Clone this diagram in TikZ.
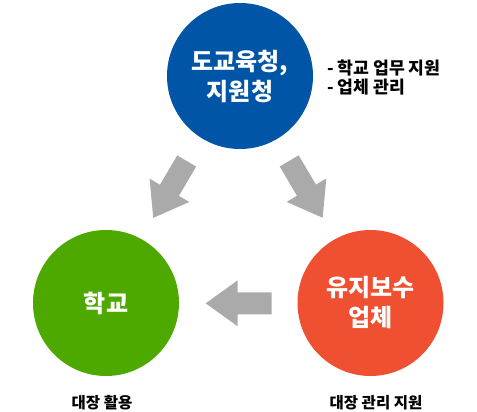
\documentclass[tikz,border=0pt]{standalone}
\usepackage{fontspec}
\setmainfont{Noto Sans CJK KR}
\definecolor{officeblue}{RGB}{0,85,166}
\definecolor{schoolgreen}{RGB}{77,168,0}
\definecolor{repairred}{RGB}{240,80,50}
\definecolor{arrowgray}{RGB}{170,170,170}
\tikzset{
  org/.style={circle, minimum size=146pt, inner sep=0pt, text=white,
    font=\bfseries\fontsize{24}{30}\selectfont, align=center},
  note/.style={font=\bfseries\fontsize{15.5}{19}\selectfont, inner sep=0pt},
  fatarrow/.style={fill=arrowgray, draw=none}
}
\begin{document}
\begin{tikzpicture}[x=1pt, y=-1pt]
    \useasboundingbox (0,0) rectangle (477,412);
    \node[org, fill=officeblue] (office) at (240,76) {도교육청,\\지원청};
    \node[org, fill=schoolgreen] (school) at (106,303) {학교};
    \node[org, fill=repairred] (repair) at (370.5,303) {유지보수\\업체};

    \node[note, anchor=west, align=left, font=\bfseries\fontsize{17.2}{19}\selectfont] (duty) at (327,77.5) {- 학교 업무 지원\\- 업체 관리};
    \node[note] (use) at (102,403) {대장 활용};
    \node[note] (manage) at (376,403) {대장 관리 지원};

    % gray arrows
    \begin{scope}[shift={(186.7,161)}, rotate=239.5]
      \fill[fatarrow] (0,-11) -- (34,-11) -- (34,-23) -- (66,0) -- (34,23) -- (34,11) -- (0,11) -- cycle;
    \end{scope}
    \begin{scope}[shift={(289.2,160.9)}, rotate=300.5]
      \fill[fatarrow] (0,-11) -- (34,-11) -- (34,-23) -- (66,0) -- (34,23) -- (34,11) -- (0,11) -- cycle;
    \end{scope}
    \begin{scope}[shift={(271.7,303.3)}, rotate=180]
      \fill[fatarrow] (0,-11) -- (34,-11) -- (34,-23) -- (66,0) -- (34,23) -- (34,11) -- (0,11) -- cycle;
    \end{scope}
\end{tikzpicture}
\end{document}
